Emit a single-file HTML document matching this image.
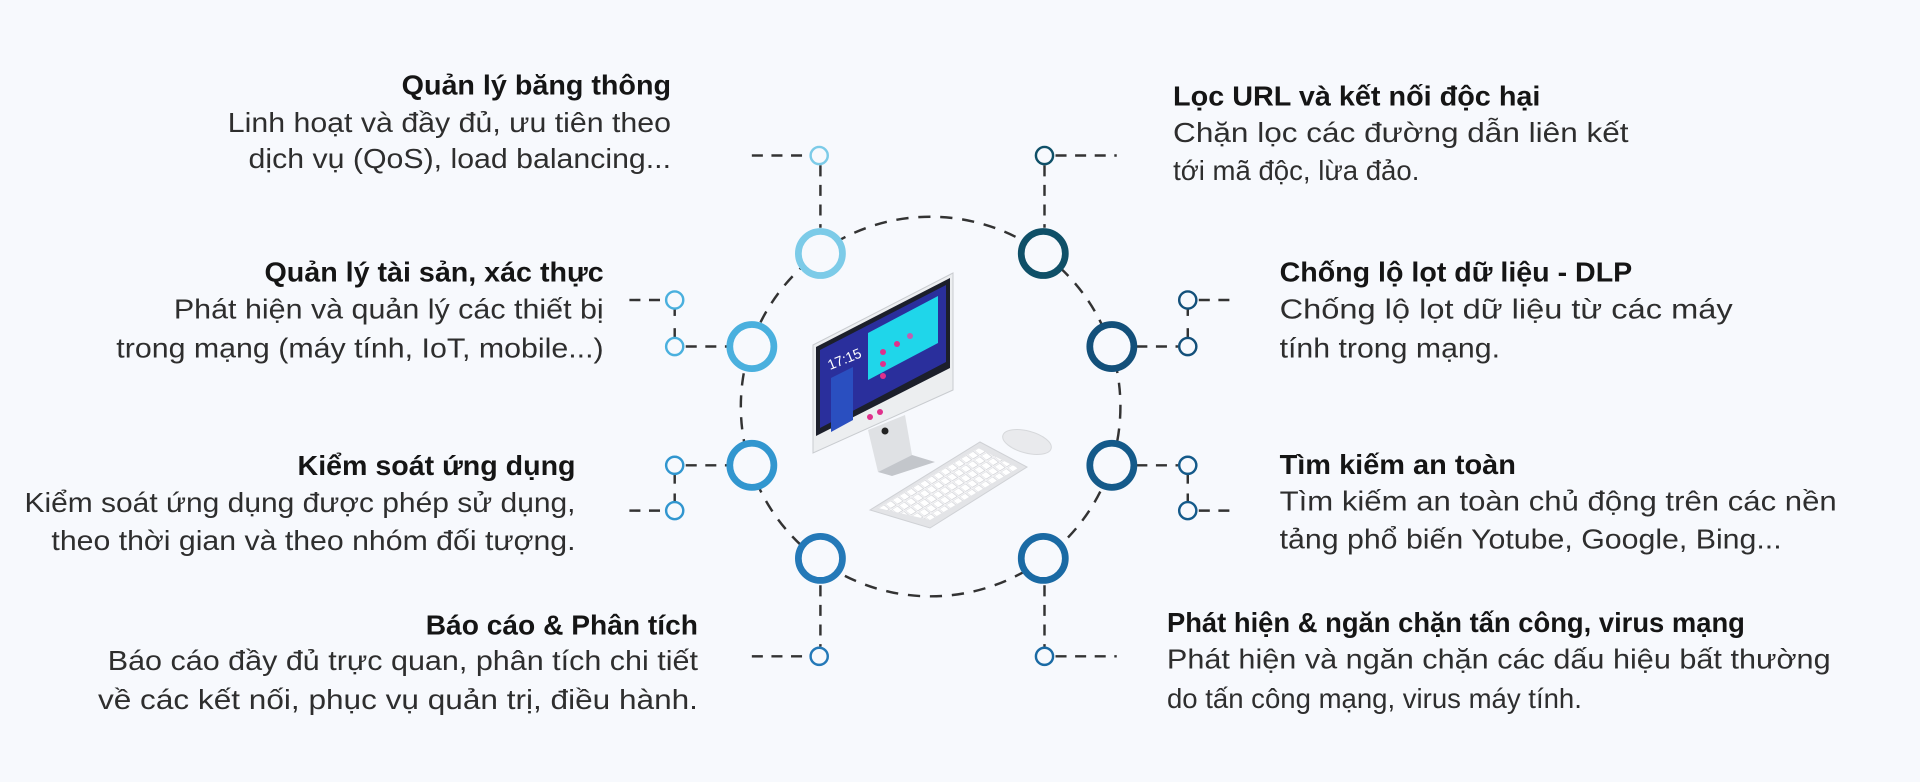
<!DOCTYPE html>
<html><head><meta charset="utf-8"><style>
html,body{margin:0;padding:0;background:#f7f9fd;}
svg{display:block}
.t{font-family:"Liberation Sans",sans-serif;font-size:23px;font-weight:bold;fill:#151515}
.d{font-family:"Liberation Sans",sans-serif;font-size:22.5px;fill:#2e2e2e}
</style></head><body>
<svg width="1920" height="782" viewBox="0 0 1920 782" xmlns="http://www.w3.org/2000/svg">
<defs>
<pattern id="keys" width="8" height="8" patternUnits="userSpaceOnUse" patternTransform="rotate(-31) skewX(20)">
<rect width="8" height="8" fill="#f4f4f6"/><rect x="0" y="0" width="6.5" height="6.5" fill="#ffffff" stroke="#c9cbd0" stroke-width="0.6"/>
</pattern>
</defs>
<rect width="1920" height="782" fill="#f7f9fd"/>
<g transform="scale(1.2245)">
<circle cx="760" cy="332" r="155" fill="none" stroke="#333" stroke-width="2" stroke-dasharray="10 8"/>
<g fill="none" stroke="#333" stroke-width="2" stroke-dasharray="9 7">
<line x1="614" y1="127" x2="660" y2="127"/><line x1="670" y1="135" x2="670" y2="186"/>
<line x1="862" y1="127" x2="912" y2="127"/><line x1="853" y1="135" x2="853" y2="186"/>
<line x1="614" y1="536" x2="660" y2="536"/><line x1="670" y1="478" x2="670" y2="528"/>
<line x1="862" y1="536" x2="912" y2="536"/><line x1="853" y1="478" x2="853" y2="528"/>
<line x1="514" y1="245" x2="543" y2="245"/><line x1="560" y1="283" x2="594" y2="283"/>
<line x1="560" y1="380" x2="594" y2="380"/><line x1="514" y1="417" x2="543" y2="417"/>
<line x1="979" y1="245" x2="1010" y2="245"/><line x1="928" y1="283" x2="962" y2="283"/>
<line x1="928" y1="380" x2="962" y2="380"/><line x1="979" y1="417" x2="1010" y2="417"/>
</g>
<g stroke="#333" stroke-width="2">
<line x1="551" y1="252" x2="551" y2="258"/><line x1="551" y1="268" x2="551" y2="276"/>
<line x1="551" y1="387" x2="551" y2="395"/><line x1="551" y1="403" x2="551" y2="410"/>
<line x1="970" y1="252" x2="970" y2="258"/><line x1="970" y1="268" x2="970" y2="276"/>
<line x1="970" y1="387" x2="970" y2="395"/><line x1="970" y1="403" x2="970" y2="410"/>
</g>
<g fill="#f7f9fd" stroke-width="2">
<circle cx="669" cy="127" r="7" stroke="#7ccbe8"/>
<circle cx="853" cy="127" r="7" stroke="#0f5068"/>
<circle cx="669" cy="536" r="7" stroke="#2479b8"/>
<circle cx="853" cy="536" r="7" stroke="#1a6aa4"/>
<circle cx="551" cy="245" r="7" stroke="#4ab0de"/><circle cx="551" cy="283" r="7" stroke="#4ab0de"/>
<circle cx="551" cy="380" r="7" stroke="#3196cf"/><circle cx="551" cy="417" r="7" stroke="#3196cf"/>
<circle cx="970" cy="245" r="7" stroke="#13507a"/><circle cx="970" cy="283" r="7" stroke="#13507a"/>
<circle cx="970" cy="380" r="7" stroke="#145a8a"/><circle cx="970" cy="417" r="7" stroke="#145a8a"/>
</g>
<g fill="#f7f9fd" stroke-width="5.5">
<circle cx="670" cy="207" r="18" stroke="#7ccbe8"/>
<circle cx="852" cy="207" r="18" stroke="#0f5068"/>
<circle cx="614" cy="283" r="18" stroke="#4ab0de"/>
<circle cx="908" cy="283" r="18" stroke="#13507a"/>
<circle cx="614" cy="380" r="18" stroke="#3196cf"/>
<circle cx="908" cy="380" r="18" stroke="#145a8a"/>
<circle cx="670" cy="456" r="18" stroke="#2479b8"/>
<circle cx="852" cy="456" r="18" stroke="#1a6aa4"/>
</g>
<g text-anchor="end">
<text class="t" x="548" y="77" textLength="220" lengthAdjust="spacingAndGlyphs">Quản lý băng thông</text>
<text class="d" x="548" y="108" textLength="362" lengthAdjust="spacingAndGlyphs">Linh hoạt và đầy đủ, ưu tiên theo</text>
<text class="d" x="548" y="137" textLength="345" lengthAdjust="spacingAndGlyphs">dịch vụ (QoS), load balancing...</text>
<text class="t" x="493" y="230" textLength="277" lengthAdjust="spacingAndGlyphs">Quản lý tài sản, xác thực</text>
<text class="d" x="493" y="260" textLength="351" lengthAdjust="spacingAndGlyphs">Phát hiện và quản lý các thiết bị</text>
<text class="d" x="493" y="292" textLength="398" lengthAdjust="spacingAndGlyphs">trong mạng (máy tính, IoT, mobile...)</text>
<text class="t" x="470" y="388" textLength="227" lengthAdjust="spacingAndGlyphs">Kiểm soát ứng dụng</text>
<text class="d" x="470" y="418" textLength="450" lengthAdjust="spacingAndGlyphs">Kiểm soát ứng dụng được phép sử dụng,</text>
<text class="d" x="470" y="449" textLength="428" lengthAdjust="spacingAndGlyphs">theo thời gian và theo nhóm đối tượng.</text>
<text class="t" x="570" y="518">Báo cáo &amp; Phân tích</text>
<text class="d" x="570" y="547" textLength="482" lengthAdjust="spacingAndGlyphs">Báo cáo đầy đủ trực quan, phân tích chi tiết</text>
<text class="d" x="570" y="579" textLength="490" lengthAdjust="spacingAndGlyphs">về các kết nối, phục vụ quản trị, điều hành.</text>
</g>
<text class="t" x="958" y="86" textLength="300" lengthAdjust="spacingAndGlyphs">Lọc URL và kết nối độc hại</text>
<text class="d" x="958" y="116" textLength="372" lengthAdjust="spacingAndGlyphs">Chặn lọc các đường dẫn liên kết</text>
<text class="d" x="958" y="147">tới mã độc, lừa đảo.</text>
<text class="t" x="1045" y="230" textLength="288" lengthAdjust="spacingAndGlyphs">Chống lộ lọt dữ liệu - DLP</text>
<text class="d" x="1045" y="260" textLength="370" lengthAdjust="spacingAndGlyphs">Chống lộ lọt dữ liệu từ các máy</text>
<text class="d" x="1045" y="292" textLength="180" lengthAdjust="spacingAndGlyphs">tính trong mạng.</text>
<text class="t" x="1045" y="387" textLength="193" lengthAdjust="spacingAndGlyphs">Tìm kiếm an toàn</text>
<text class="d" x="1045" y="417" textLength="455" lengthAdjust="spacingAndGlyphs">Tìm kiếm an toàn chủ động trên các nền</text>
<text class="d" x="1045" y="448" textLength="410" lengthAdjust="spacingAndGlyphs">tảng phổ biến Yotube, Google, Bing...</text>
<text class="t" x="953" y="516" textLength="472" lengthAdjust="spacingAndGlyphs">Phát hiện &amp; ngăn chặn tấn công, virus mạng</text>
<text class="d" x="953" y="546" textLength="542" lengthAdjust="spacingAndGlyphs">Phát hiện và ngăn chặn các dấu hiệu bất thường</text>
<text class="d" x="953" y="578">do tấn công mạng, virus máy tính.</text>
</g>
<!-- computer in original coords -->
<g>
<polygon points="868,430 905,415 912,455 878,472" fill="#dfe1e4"/>
<polygon points="878,472 912,455 935,462 892,476" fill="#c3c6cb"/>
<polygon points="813,345 953,273 953,390 813,453" fill="#eceef0" stroke="#c9ccd0"/>
<polygon points="816,347 950,278 950,368 816,436" fill="#1c1f2b"/>
<polygon points="820,350 946,285 946,362 820,428" fill="#2a2f9c"/>
<polygon points="868,333 938,296 938,343 868,380" fill="#1fd6ea"/>
<polygon points="831,378 853,367 853,420 831,432" fill="#2a4fc0"/>
<text x="830" y="370" font-family="Liberation Sans,sans-serif" font-size="14" fill="#fff" transform="rotate(-22 830 370)">17:15</text>
<circle cx="883" cy="352" r="3" fill="#e0308c"/><circle cx="883" cy="364" r="3" fill="#e0308c"/><circle cx="883" cy="376" r="3" fill="#e0308c"/><circle cx="897" cy="344" r="3" fill="#e0308c"/><circle cx="910" cy="336" r="3" fill="#c060b0"/>
<circle cx="870" cy="417" r="3" fill="#e0308c"/><circle cx="880" cy="412" r="3" fill="#e0308c"/>
<circle cx="885" cy="431" r="3.5" fill="#222"/>
<polygon points="870,510 980,442 1027,467 930,528" fill="#e3e4e7" stroke="#cfd1d5"/>
<polygon points="878,508 978,448 1018,468 930,520" fill="url(#keys)"/>
<ellipse cx="1027" cy="442" rx="25" ry="11" fill="#e9eaed" stroke="#d6d8db" transform="rotate(15 1027 442)"/>
</g>
</svg>
</body></html>
